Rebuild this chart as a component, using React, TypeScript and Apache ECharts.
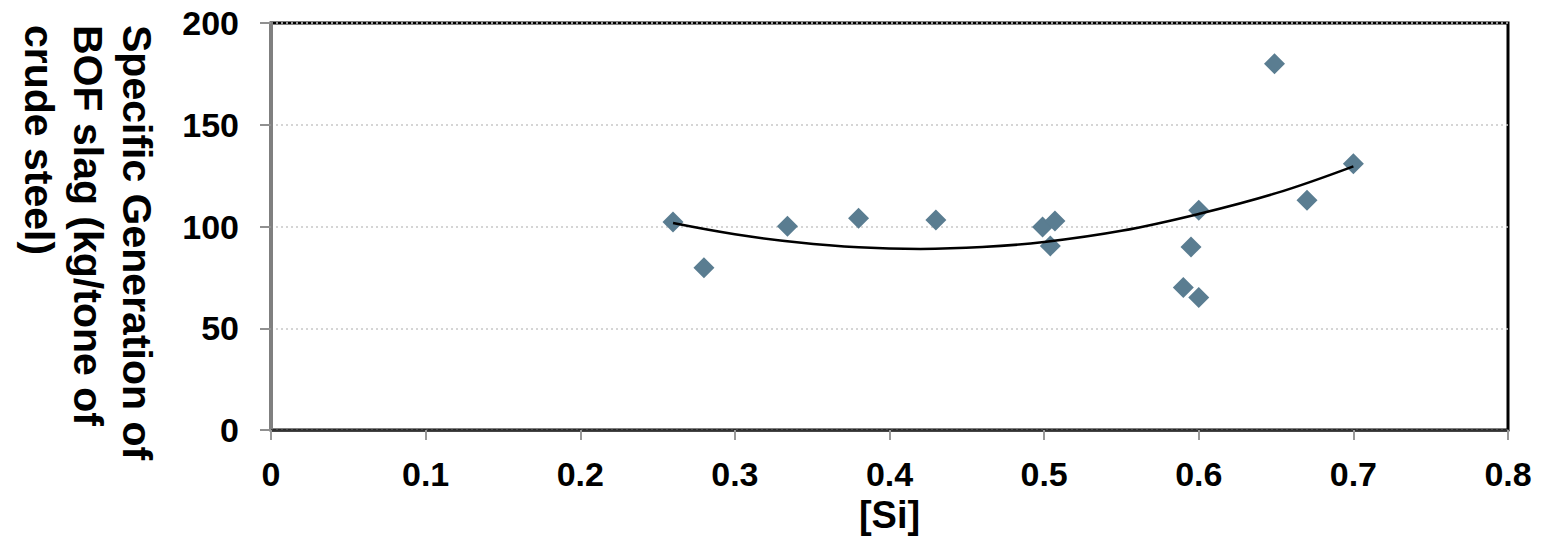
import React, { useEffect, useRef } from "react";
import * as echarts from "echarts";

const siValues = [0.26, 0.28, 0.334, 0.38, 0.43, 0.499, 0.507, 0.504, 0.59, 0.6, 0.595, 0.6, 0.649, 0.67, 0.7];
const slagValues = [102.2, 79.8, 100.2, 104.1, 103.2, 99.8, 102.7, 90.5, 70.1, 65.2, 90.0, 108.0, 180.0, 112.9, 130.9];

// Polynomial trendline, points
const trendX = [0.26, 0.3, 0.34, 0.38, 0.42, 0.46, 0.5, 0.55, 0.6, 0.65, 0.7];
const trendY = [101.7, 96.2, 92.3, 89.8, 89.0, 89.9, 92.4, 97.9, 106.2, 116.4, 129.6];

const xTicks = [0, 0.1, 0.2, 0.3, 0.4, 0.5, 0.6, 0.7, 0.8];
const yTicks = [0, 50, 100, 150, 200];

const yTitleLines = ["Specific Generation of", "BOF slag (kg/tone of", "crude steel)"];
const xTitle = "[Si]";

const FONT = "'Liberation Sans', Arial, sans-serif";

export default function App() {
  const ref = useRef<HTMLDivElement>(null);

  useEffect(() => {
    document.body.style.margin = "0";
    if (!ref.current) return;
    const chart = echarts.init(ref.current, undefined, { renderer: "svg" });
    const scatterData = siValues.map((x, i) => [x, slagValues[i]]);
    const trendData = trendX.map((x, i) => [x, trendY[i]]);
    chart.setOption({
      animation: false,
      backgroundColor: "#ffffff",
      grid: {
        left: 271,
        right: 33,
        top: 23,
        bottom: 99,
        show: true,
        borderColor: "#000000",
        borderWidth: 3,
        backgroundColor: "transparent",
      },
      xAxis: {
        type: "value",
        min: xTicks[0],
        max: xTicks[xTicks.length - 1],
        interval: 0.1,
        name: xTitle,
        nameLocation: "middle",
        nameGap: 58,
        nameTextStyle: { fontFamily: FONT, fontWeight: "bold", fontSize: 38, color: "#000" },
        axisLine: { show: true, lineStyle: { color: "#333333", width: 2.5 } },
        axisTick: { show: true, length: 10, lineStyle: { color: "#999999", width: 2 } },
        axisLabel: {
          margin: 27,
          fontFamily: FONT,
          fontWeight: "bold",
          fontSize: 34,
          color: "#000",
          formatter: (v: number) => String(Math.round(v * 10) / 10),
        },
        splitLine: { show: false },
      },
      yAxis: {
        type: "value",
        min: yTicks[0],
        max: yTicks[yTicks.length - 1],
        interval: 50,
        axisLine: { show: true, lineStyle: { color: "#808080", width: 3 } },
        axisTick: { show: true, length: 11, lineStyle: { color: "#909090", width: 2 } },
        axisLabel: {
          margin: 32,
          fontFamily: FONT,
          fontWeight: "bold",
          fontSize: 34,
          color: "#000",
        },
        splitLine: { show: true, lineStyle: { color: "#c8c8c8", width: 1.5, type: [2, 3] } },
      },
      graphic: [
        {
          type: "text",
          x: 161,
          y: 25,
          rotation: -Math.PI / 2,
          style: {
            text: yTitleLines.join("\n"),
            font: `bold 41px ${FONT}`,
            lineHeight: 49,
            fill: "#000",
            textAlign: "left",
            textVerticalAlign: "top",
          },
        },
      ],
      series: [
        {
          type: "scatter",
          data: scatterData,
          symbol: "diamond",
          symbolSize: [21, 21],
          itemStyle: { color: "#5a7d91", opacity: 1 },
          z: 2,
        },
        {
          type: "line",
          data: trendData,
          smooth: 0.4,
          showSymbol: false,
          symbol: "none",
          lineStyle: { color: "#000000", width: 2.5 },
          z: 3,
        },
      ],
    });
    return () => chart.dispose();
  }, []);

  return <div ref={ref} style={{ width: 1541, height: 539 }} />;
}
